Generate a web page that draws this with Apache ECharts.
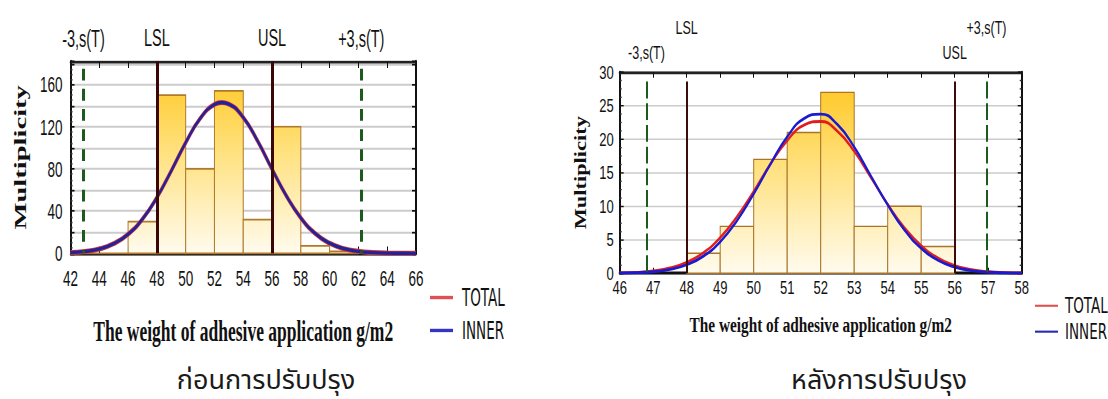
<!DOCTYPE html>
<html><head><meta charset="utf-8">
<script src="https://cdn.jsdelivr.net/npm/echarts@6/dist/echarts.min.js"></script>
<style>
html,body{margin:0;padding:0;background:#fff;width:1108px;height:399px;overflow:hidden;position:relative}
#left{position:absolute;left:0;top:0;width:560px;height:212px;transform:scaleY(1.68);transform-origin:0 0}
#right{position:absolute;left:560px;top:0;width:548px;height:254px;transform:scaleY(1.4);transform-origin:0 0}
.cap{position:absolute;top:364px;font-size:27px;line-height:34px;color:#1a1a1a;font-family:"Noto Sans Thai","Noto Sans Thai UI","Noto Looped Thai","Loma","Garuda","Norasi","Tlwg Typo",sans-serif;transform:translateX(-50%);white-space:nowrap}
</style></head><body>
<div id="left"></div><div id="right"></div>
<div class="cap" style="left:266px">ก่อนการปรับปรุง</div>
<div class="cap" style="left:879px">หลังการปรับปรุง</div>
<script>
// ---------- LEFT chart data (before improvement) ----------
const binStartL = [42, 44, 46, 48, 50, 52, 54, 56, 58, 60];
const countsL   = [0, 0, 30, 150, 80, 154, 32, 120, 7, 2];
const binWidthL = 2;
const curveXL = [42,43,44,45,46,47,48,49,50,51,52,52.5,53,54,55,56,57,58,59,60,61,62,63,64,65,66];
const totalL  = [0.7,1.8,4.2,9.2,18.1,32.5,52.9,78.2,104.9,127.7,141.1,143.0,141.5,128.8,106.4,79.8,54.3,33.6,18.8,9.6,4.4,1.9,0.7,0.2,0.1,0];
const innerL  = [0.7,1.8,4.2,9.2,18.1,32.5,52.9,78.2,104.9,127.7,141.1,143.0,141.5,128.8,106.4,79.8,54.3,33.6,18.8,9.6,4.4,1.9,0.7,0.2,0.1,0];
const limitValuesL = [42.9, 48, 56, 62.2];
const limitLabelsL = ['-3,s(T)', 'LSL', 'USL', '+3,s(T)'];

// ---------- RIGHT chart data (after improvement) ----------
const binStartR = [48, 49, 50, 51, 52, 53, 54, 55];
const countsR   = [3, 7, 17, 21, 27, 7, 10, 4];
const binWidthR = 1;
const curveXR = [46,46.5,47,47.5,48,48.5,49,49.5,50,50.5,51,51.5,52,52.5,53,53.5,54,54.5,55,55.5,56,56.5,57,57.5,58];
const totalR  = [0.05,0.14,0.35,0.79,1.63,3.07,5.31,8.43,12.2,16.3,19.8,22.1,22.65,21.2,18.2,14.3,10.3,6.8,4.13,2.29,1.16,0.54,0.23,0.09,0.03];
const innerR  = [0.03,0.09,0.23,0.57,1.27,2.56,4.7,7.84,11.86,16.3,20.36,23.08,23.75,22.2,18.84,14.5,10.2,6.46,3.73,1.95,0.93,0.4,0.16,0.06,0.02];
const limitValuesR = [46.8, 48, 56, 56.95];
const limitLabelsR = ['-3,s(T)', 'LSL', 'USL', '+3,s(T)'];

const seriesNames = ['TOTAL', 'INNER'];
const xTitle = 'The weight of adhesive application g/m2';
const yTitle = 'Multiplicity';

const SANS = "'Liberation Sans', Arial, Helvetica, sans-serif";
const NARROW = "'Liberation Sans Narrow','Arial Narrow','DejaVu Sans Condensed',sans-serif";
const SERIF = "'Liberation Serif','Times New Roman',serif";

const barStops = [
  {offset: 0, color: '#FFC418'},
  {offset: 0.45, color: '#FFE07A'},
  {offset: 1, color: '#FFFBEE'}
];

function barRenderer(yTop, stroke) {
  return function (params, api) {
    const x0 = api.value(0), x1 = api.value(1), v = api.value(2);
    const pTop = api.coord([x0, v]);
    const pBot = api.coord([x1, 0]);
    const gTop = api.coord([x0, yTop])[1];
    return {
      type: 'rect',
      shape: {x: pTop[0], y: pTop[1], width: pBot[0] - pTop[0], height: pBot[1] - pTop[1]},
      style: {
        fill: new echarts.graphic.LinearGradient(0, gTop, 0, pBot[1], barStops, true),
        stroke: stroke, lineWidth: 1
      }
    };
  };
}
function binData(starts, counts, w) {
  return starts.map((s, i) => [s, s + w, counts[i]]);
}
function pairs(xs, ys) { return xs.map((x, i) => [x, ys[i]]); }
function lab(text, dist, size) {
  return {show: true, position: 'start', formatter: text, distance: dist,
          color: '#111', fontSize: size, fontFamily: SANS};
}

function axesFor(c) {
  const xMain = {
    type: 'value', min: c.xmin, max: c.xmax, interval: c.xint, position: 'bottom',
    axisLine: {show: true, onZero: false, lineStyle: {color: '#111', width: c.bottomW}},
    axisTick: {show: true, inside: true, length: 4, lineStyle: {color: '#111'}},
    axisLabel: {margin: c.xLabMargin, color: '#111', fontSize: c.tickFont, fontFamily: SANS},
    splitLine: {show: false},
    name: xTitle, nameLocation: 'middle', nameGap: c.xNameGap,
    nameTextStyle: {fontFamily: SERIF, fontWeight: 'bold', fontSize: c.xNameFont, color: '#111'}
  };
  const xTop = {
    type: 'value', min: c.xmin, max: c.xmax, interval: c.xint, position: 'top',
    axisLine: {show: true, onZero: false, lineStyle: {color: '#222', width: c.topW}},
    axisTick: {show: true, inside: true, length: 4, lineStyle: {color: '#111'}},
    axisLabel: {show: false}, splitLine: {show: false}
  };
  const yMain = {
    type: 'value', min: 0, max: c.ymax, interval: c.yint, position: 'left',
    axisLine: {show: true, onZero: false, lineStyle: {color: '#111', width: 2}},
    axisTick: {show: true, inside: true, length: 4, lineStyle: {color: '#111'}},
    minorTick: {show: true, splitNumber: 4, length: 2, lineStyle: {color: '#333'}},
    axisLabel: {margin: c.yLabMargin, color: '#111', fontSize: c.tickFont, fontFamily: SANS,
                formatter: v => (v % c.ylabStep === 0 ? String(v) : '')},
    splitLine: {show: true, lineStyle: {color: '#cccccc', width: c.gridW}},
    name: yTitle, nameLocation: 'middle', nameGap: c.yNameGap,
    nameTextStyle: {fontFamily: SERIF, fontWeight: 'bold', fontSize: c.yNameFont, color: '#111'}
  };
  const yRight = {
    type: 'value', min: 0, max: c.ymax, interval: c.yint, position: 'right',
    axisLine: {show: true, onZero: false, lineStyle: {color: '#111', width: 2}},
    axisTick: {show: true, inside: true, length: 4, lineStyle: {color: '#111'}},
    minorTick: {show: c.rightMinor, splitNumber: 4, length: 2, lineStyle: {color: '#333'}},
    axisLabel: {show: false}, splitLine: {show: false}
  };
  return {xAxis: [xMain, xTop], yAxis: [yMain, yRight]};
}

// ---------------- LEFT ----------------
const YMAX_L = 182;
const greenL = {color: '#1d5a1d', width: 3, type: [7, 5]};
const specL = {color: '#3a0606', width: 3, type: 'solid'};
const axL = axesFor({xmin: 42, xmax: 66, xint: 2, ymax: YMAX_L, yint: 20, ylabStep: 40,
  bottomW: 1.3, topW: 1.5, xLabMargin: 8, tickFont: 13.5, xNameGap: 37, xNameFont: 17.5,
  yLabMargin: 8, gridW: 1.2, yNameGap: 42, yNameFont: 17, rightMinor: false});
const optL = {
  animation: false,
  grid: {left: 70.5, width: 345.5, top: 36.5, height: 114.3},
  xAxis: axL.xAxis, yAxis: axL.yAxis,
  legend: {
    orient: 'vertical', left: 430, top: 169.6, padding: 0, itemGap: 4.6, itemWidth: 23, itemHeight: 2, icon: 'rect',
    data: [{name: seriesNames[0], itemStyle: {color: '#e05050'}}, {name: seriesNames[1], itemStyle: {color: '#3535c5'}}],
    textStyle: {fontFamily: NARROW, fontSize: 15, color: '#111', padding: [0, 0, 0, 4]}
  },
  series: [
    {type: 'custom', name: 'bins', data: binData(binStartL, countsL, binWidthL),
     encode: {x: [0, 1], y: 2}, renderItem: barRenderer(YMAX_L, '#b07a2a'), z: 1, silent: true},
    {type: 'line', name: seriesNames[0], data: pairs(curveXL, totalL), smooth: true, showSymbol: false,
     lineStyle: {color: '#d03a3a', width: 3}, itemStyle: {color: '#d03a3a'}, z: 3,
     markLine: {silent: true, symbol: ['none', 'none'], animation: false,
       data: [
         [{coord: [limitValuesL[0], 175], lineStyle: greenL, label: lab(limitLabelsL[0], 10.6, 14.5)}, {coord: [limitValuesL[0], 0]}],
         [{coord: [limitValuesL[1], YMAX_L], lineStyle: specL, label: lab(limitLabelsL[1], 6.6, 14.5)}, {coord: [limitValuesL[1], 0]}],
         [{coord: [limitValuesL[2], YMAX_L], lineStyle: specL, label: lab(limitLabelsL[2], 6.6, 14.5)}, {coord: [limitValuesL[2], 0]}],
         [{coord: [limitValuesL[3], 175], lineStyle: greenL, label: lab(limitLabelsL[3], 10.6, 14.5)}, {coord: [limitValuesL[3], 0]}]
       ]}},
    {type: 'line', name: seriesNames[1], data: pairs(curveXL, innerL), smooth: true, showSymbol: false,
     lineStyle: {color: '#22229a', width: 2}, itemStyle: {color: '#22229a'}, z: 4}
  ]
};

// ---------------- RIGHT ----------------
const YMAX_R = 30;
const LINE_TOP_R = 28.6;
const greenR = {color: '#1d5a1d', width: 2, type: [12, 3.5]};
const specR = {color: '#3a0c0c', width: 2, type: 'solid'};
const axR = axesFor({xmin: 46, xmax: 58, xint: 1, ymax: YMAX_R, yint: 5, ylabStep: 5,
  bottomW: 2, topW: 2, xLabMargin: 4, tickFont: 13, xNameGap: 29, xNameFont: 15.3,
  yLabMargin: 6, gridW: 1.1, yNameGap: 30, yNameFont: 16, rightMinor: true});
const optR = {
  animation: false,
  grid: {left: 59.7, width: 402, top: 51.6, height: 143.6},
  xAxis: axR.xAxis, yAxis: axR.yAxis,
  legend: {
    orient: 'vertical', left: 475, top: 210.9, padding: 0, itemGap: 3.5, itemWidth: 23, itemHeight: 1.5, icon: 'rect',
    data: [{name: seriesNames[0], itemStyle: {color: '#e05050'}}, {name: seriesNames[1], itemStyle: {color: '#2a2ab0'}}],
    textStyle: {fontFamily: NARROW, fontSize: 15, color: '#111', padding: [0, 0, 0, 2]}
  },
  series: [
    {type: 'custom', name: 'bins', data: binData(binStartR, countsR, binWidthR),
     encode: {x: [0, 1], y: 2}, renderItem: barRenderer(YMAX_R, '#a8742a'), z: 1, silent: true},
    {type: 'line', name: seriesNames[0], data: pairs(curveXR, totalR), smooth: true, showSymbol: false,
     lineStyle: {color: '#e01e1e', width: 2}, itemStyle: {color: '#e01e1e'}, z: 3,
     markLine: {silent: true, symbol: ['none', 'none'], animation: false,
       data: [
         [{coord: [limitValuesR[0], LINE_TOP_R], lineStyle: greenR, label: lab(limitLabelsR[0], 14.2, 12.5)}, {coord: [limitValuesR[0], 0]}],
         [{coord: [limitValuesR[1], LINE_TOP_R], lineStyle: specR, label: lab(limitLabelsR[1], 32.1, 12.5)}, {coord: [limitValuesR[1], 0]}],
         [{coord: [limitValuesR[2], LINE_TOP_R], lineStyle: specR, label: lab(limitLabelsR[2], 14.2, 12.5)}, {coord: [limitValuesR[2], 0]}],
         [{coord: [limitValuesR[3], LINE_TOP_R], lineStyle: greenR, label: lab(limitLabelsR[3], 32.1, 12.5)}, {coord: [limitValuesR[3], 0]}]
       ]}},
    {type: 'line', name: seriesNames[1], data: pairs(curveXR, innerR), smooth: true, showSymbol: false,
     lineStyle: {color: '#1a1ad0', width: 2}, itemStyle: {color: '#1a1ad0'}, z: 4}
  ]
};

echarts.init(document.getElementById('left'), null, {renderer: 'svg'}).setOption(optL);
echarts.init(document.getElementById('right'), null, {renderer: 'svg'}).setOption(optR);
</script></body></html>
